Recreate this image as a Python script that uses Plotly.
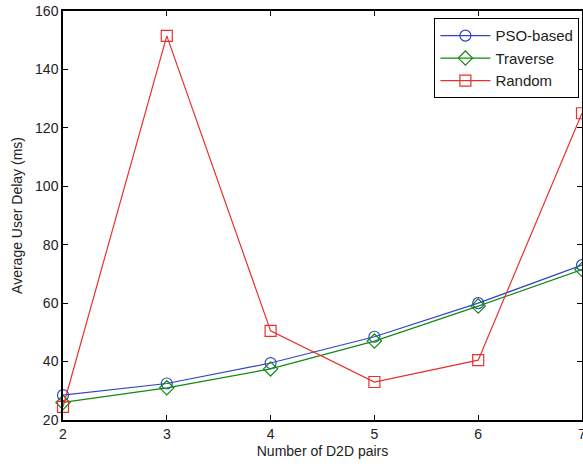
import plotly.graph_objects as go

x_pairs = [2, 3, 4, 5, 6, 7]
pso = [28.5, 32.5, 39.5, 48.5, 60.0, 73.0]
traverse = [26.0, 31.0, 37.5, 47.0, 59.0, 71.5]
random_ = [24.5, 151.5, 50.5, 33.0, 40.5, 125.0]
x_ticks = [2, 3, 4, 5, 6, 7]
y_ticks = [20, 40, 60, 80, 100, 120, 140, 160]

FONT = "Liberation Sans, Arial"

fig = go.Figure()
series = [
    ("PSO-based", pso, "#3444c4", "circle-open"),
    ("Traverse", traverse, "#108a10", "diamond-open"),
    ("Random", random_, "#e83030", "square-open"),
]
for name, vals, col, sym in series:
    fig.add_trace(go.Scatter(
        x=x_pairs, y=vals, name=name, mode="lines+markers",
        line=dict(color=col, width=1.2),
        marker=dict(symbol=sym, size=11, color=col, line=dict(width=1.2, color=col)),
        cliponaxis=False,
    ))

axis_common = dict(
    showline=True, linecolor="black", linewidth=1.5, mirror="ticks",
    ticks="inside", ticklen=5, tickcolor="black", tickwidth=1,
    showgrid=False, zeroline=False, automargin=False,
    ticklabeloverflow="allow",
    tickfont=dict(family=FONT, size=14, color="#222"),
)
fig.update_xaxes(range=[2, 7], tickvals=x_ticks, **axis_common,
                 title=dict(text="Number of D2D pairs", standoff=6,
                            font=dict(family=FONT, size=14, color="#222")))
fig.update_yaxes(range=[20, 160], tickvals=y_ticks, **axis_common,
                 title=dict(text="Average User Delay (ms)", standoff=9,
                            font=dict(family=FONT, size=14, color="#222")))

fig.update_layout(
    width=583, height=466,
    margin=dict(l=63, r=1, t=11, b=46),
    plot_bgcolor="white", paper_bgcolor="white",
    legend=dict(x=0.995, y=0.982, xanchor="right", yanchor="top",
                bordercolor="black", borderwidth=1, bgcolor="white",
                font=dict(family=FONT, size=15, color="#222"),
                tracegroupgap=0, itemwidth=50),
)
fig.write_html(
    "out.html",
    config={"displayModeBar": False},
    post_script="document.body.style.margin='0';document.body.style.overflow='hidden';",
)
